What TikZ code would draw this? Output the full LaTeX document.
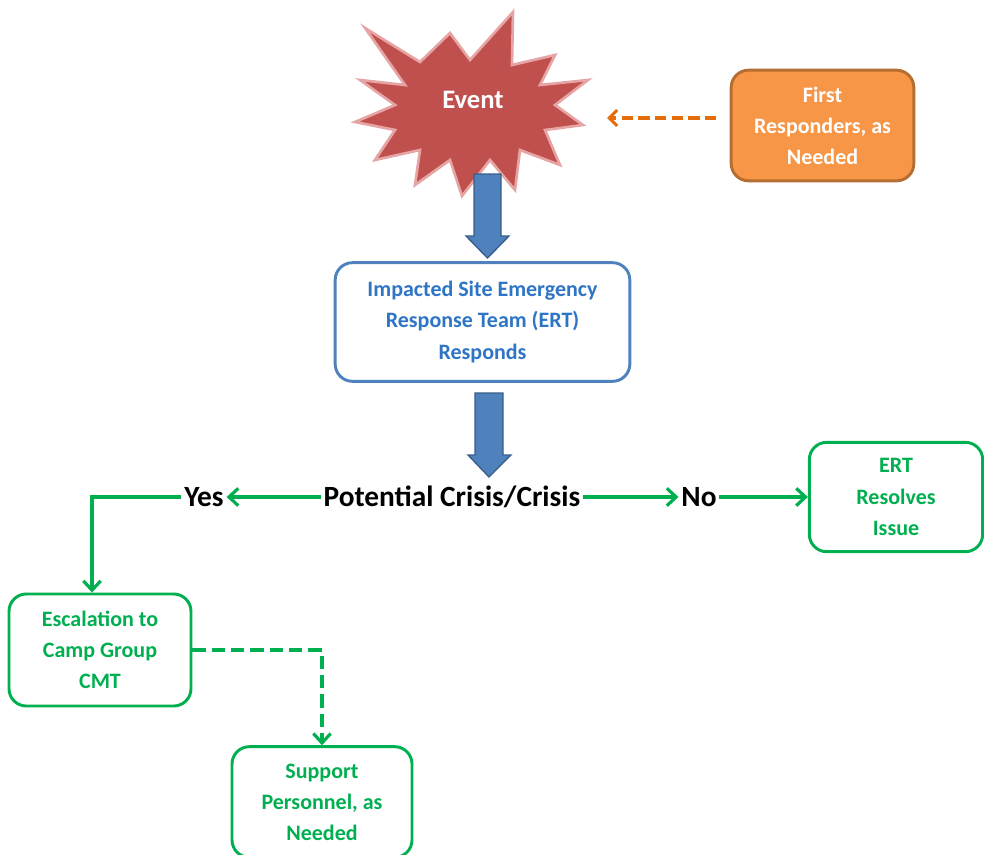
\documentclass[tikz,border=0pt]{standalone}
\usepackage{fontspec}
\setmainfont{Carlito}
\usetikzlibrary{arrows.meta}
\definecolor{grn}{HTML}{00B050}
\definecolor{blu}{HTML}{4F81BD}
\definecolor{bludk}{HTML}{385D8A}
\definecolor{bltxt}{HTML}{2E75C6}
\definecolor{org}{HTML}{F79646}
\definecolor{orgdk}{HTML}{B66D31}
\definecolor{orgln}{HTML}{E46C0A}
\definecolor{redfill}{HTML}{C0504D}
\definecolor{redln}{HTML}{E6A5A4}
\begin{document}
\begin{tikzpicture}[x=0.75pt,y=-0.75pt,
  box/.style={rounded corners=13pt, line width=2.2pt, align=center, inner sep=0pt,
    font=\bfseries\fontsize{16.5}{23.3}\selectfont},
  greenbox/.style={box, draw=grn, text=grn, fill=white},
  bigtxt/.style={font=\bfseries\fontsize{22}{26}\selectfont, inner sep=2pt},
  garrow/.style={draw=grn, line width=2.4pt, -{Straight Barb[length=7pt,width=13pt,line width=2.4pt]}},
  gdash/.style={garrow, dash pattern=on 10pt off 4.5pt},
  oarrow/.style={draw=orgln, line width=2.3pt, dash pattern=on 8.5pt off 4pt,
    -{Straight Barb[length=6pt,width=12pt,line width=2.3pt]}},
  blockarrow/.style={fill=blu, draw=bludk, line width=1pt}]
\useasboundingbox (0,0) rectangle (984,854);

% Event star
\filldraw[fill=redfill, draw=redln, line width=2pt]
  (365,28) -- (420,62) -- (450,33) -- (470,60) -- (513,12) -- (512,65) --
  (555,55) -- (540,85) -- (588,80) -- (555,105) -- (583,125) -- (545,130) --
  (560,165) -- (520,150) -- (515,190) -- (490,160) -- (462,196) -- (450,160) --
  (415,185) -- (420,150) -- (375,160) -- (395,130) -- (355,122) -- (395,105) --
  (360,80) -- (405,85) -- cycle;
\node[text=white, font=\bfseries\fontsize{20}{24}\selectfont] (event) at (473,100) {Event};

% First responders
\node[box, fill=org, draw=orgdk, text=white, minimum width=137pt, minimum height=83pt]
  (fr) at (822.5,125.5) {First\\Responders, as\\Needed};
\coordinate (evR) at (607,118);
\draw[oarrow, shorten <=10pt] (fr.west |- evR) -- (evR);

% ERT box
\node[box, draw=blu, text=bltxt, fill=white, minimum width=221pt, minimum height=89pt]
  (ert) at (482.5,322) {Impacted Site Emergency\\Response Team (ERT)\\Responds};

% block arrows
\filldraw[blockarrow] (474,174) -- (501,174) -- (501,236) -- (509,236) -- (487.5,258)
  -- (466,236) -- (474,236) -- cycle;
\filldraw[blockarrow] (475,393) -- (503,393) -- (503,455) -- (511,455) -- (489,477)
  -- (468,455) -- (475,455) -- cycle;

% decision row
\node[bigtxt] (pc) at (452,497) {Potential Crisis/Crisis};
\node[bigtxt] (yes) at (204,497) {Yes};
\node[bigtxt] (no) at (699,497) {No};

\node[greenbox, minimum width=130pt, minimum height=82pt] (res) at (896,497)
  {ERT\\Resolves\\Issue};
\node[greenbox, minimum width=136.5pt, minimum height=84pt] (esc) at (100,650)
  {Escalation to\\Camp Group\\CMT};
\node[greenbox, minimum width=135pt, minimum height=83pt] (sup) at (322,802)
  {Support\\Personnel, as\\Needed};

\draw[garrow] (pc.west) -- (yes.east);
\draw[garrow] (pc.east) -- (no.west);
\draw[garrow] (no.east) -- (no.east -| res.west);
\draw[garrow] (yes.west) -| ([xshift=-6pt]esc.north);
\draw[gdash] (esc.east) -| (sup.north);
\end{tikzpicture}
\end{document}
